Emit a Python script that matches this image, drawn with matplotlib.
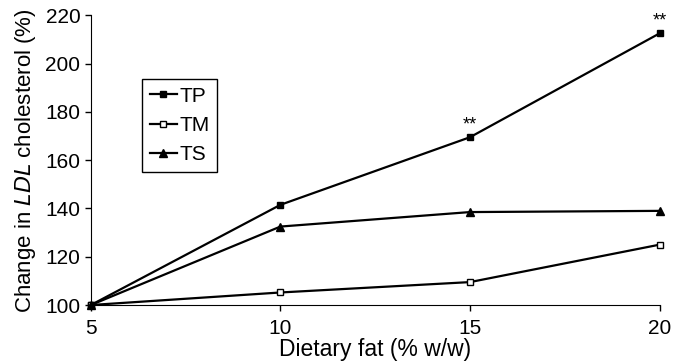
import matplotlib
matplotlib.use("Agg")
import matplotlib.pyplot as plt

fat = [5, 10, 15, 20]
tp = [100, 141.5, 169.5, 212.5]
tm = [100, 105.2, 109.5, 125]
ts = [100, 132.5, 138.5, 139]
yticks = [100, 120, 140, 160, 180, 200, 220]
xticks = [5, 10, 15, 20]

plt.rcParams['font.family'] = ['Liberation Sans', 'DejaVu Sans']
fig = plt.figure(figsize=(6.73, 3.64), dpi=100)
ax = fig.add_axes([0.135, 0.162, 0.845, 0.796])

ax.plot(fat, tp, color='black', lw=1.6, marker='s', ms=5, mfc='black', clip_on=False, label='TP')
ax.plot(fat, tm, color='black', lw=1.6, marker='s', ms=5, mfc='white', clip_on=False, label='TM')
ax.plot(fat, ts, color='black', lw=1.6, marker='^', ms=5.5, mfc='black', clip_on=False, label='TS')

ax.text(15, tp[2] + 1.5, '**', ha='center', va='bottom', fontsize=13)
ax.text(20, tp[3] + 1.5, '**', ha='center', va='bottom', fontsize=13)

ax.set_xlim(5, 20)
ax.set_ylim(100, 220)
ax.set_xticks(xticks)
ax.set_yticks(yticks)
ax.tick_params(labelsize=15, direction='out', length=4, width=1)
ax.tick_params(axis='x', pad=6)
for s in ['top', 'right']:
    ax.spines[s].set_visible(False)
ax.set_xlabel('Dietary fat (% w/w)', fontsize=16.5, labelpad=0)
ax.set_ylabel('Change in $\\it{LDL}$ cholesterol (%)', fontsize=16, labelpad=5)

leg = ax.legend(loc='upper left', bbox_to_anchor=(0.072, 0.815), fontsize=15,
                handlelength=1.3, handletextpad=0.15, borderpad=0.35, labelspacing=0.5,
                fancybox=False, edgecolor='black', framealpha=1)
leg.get_frame().set_linewidth(1)

fig.savefig('out.png', dpi=100)
